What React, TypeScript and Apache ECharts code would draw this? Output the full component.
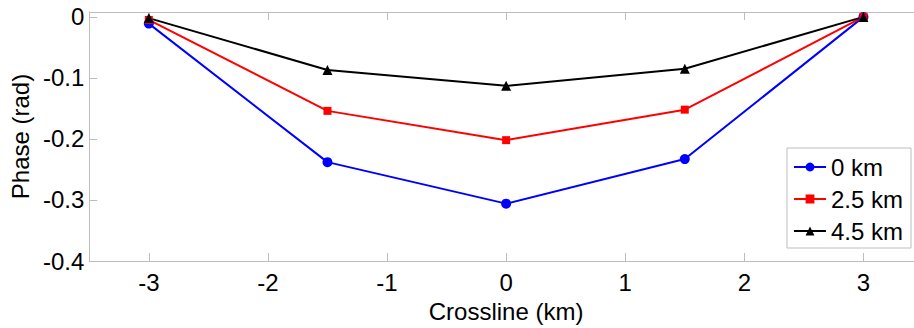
import React, { useEffect, useRef } from "react";
import * as echarts from "echarts";

const crossline = [-3, -1.5, 0, 1.5, 3];
const phase0km = [-0.011, -0.238, -0.306, -0.233, 0];
const phase25km = [-0.005, -0.154, -0.202, -0.152, 0];
const phase45km = [-0.002, -0.087, -0.113, -0.085, 0];
const xTicks = [-3, -2, -1, 0, 1, 2, 3];
const yTicks = [-0.4, -0.3, -0.2, -0.1, 0];

const FONT = "'Liberation Sans', Arial, Helvetica, sans-serif";
const GRAY = "#bdbdbd";

export default function App() {
  const ref = useRef<HTMLDivElement>(null);
  useEffect(() => {
    if (!ref.current) return;
    const chart = echarts.init(ref.current, undefined, { renderer: "svg" });
    const pair = (ys: number[]) => crossline.map((x, i) => [x, ys[i]]);
    chart.setOption({
      animation: false,
      backgroundColor: "#ffffff",
      textStyle: { fontFamily: FONT },
      grid: { left: 88, top: 12, bottom: 66, right: 0 },
      xAxis: [
        {
          type: "value",
          min: -3.5,
          max: 3.5,
          position: "bottom",
          name: "Crossline (km)",
          nameLocation: "middle",
          nameGap: 38,
          nameTextStyle: { fontSize: 24, color: "#000", fontFamily: FONT },
          axisLine: { show: true, onZero: false, lineStyle: { color: GRAY, width: 1 } },
          axisTick: { show: true, inside: true, length: 8, lineStyle: { color: GRAY }, customValues: xTicks },
          axisLabel: { fontSize: 24, color: "#000", margin: 9, fontFamily: FONT, customValues: xTicks, formatter: (v: number) => String(v) },
          splitLine: { show: false },
        },
        {
          type: "value",
          min: -3.5,
          max: 3.5,
          position: "top",
          axisLine: { show: true, onZero: false, lineStyle: { color: GRAY, width: 1 } },
          axisTick: { show: true, inside: true, length: 8, lineStyle: { color: GRAY }, customValues: xTicks },
          axisLabel: { show: false },
          splitLine: { show: false },
        },
      ],
      yAxis: {
        type: "value",
        min: -0.4,
        max: 0.008,
        name: "Phase (rad)",
        nameLocation: "middle",
        nameGap: 54,
        nameTextStyle: { fontSize: 24, color: "#000", fontFamily: FONT },
        axisLine: { show: true, onZero: false, lineStyle: { color: GRAY, width: 1 } },
        axisTick: { show: true, inside: true, length: 8, lineStyle: { color: GRAY }, customValues: yTicks },
        axisLabel: {
          fontSize: 24,
          color: "#000",
          margin: 5,
          fontFamily: FONT,
          customValues: yTicks,
          formatter: (v: number) => (Math.abs(v) < 1e-9 ? "0" : String(Math.round(v * 10) / 10)),
        },
        splitLine: { show: false },
      },
      legend: {
        orient: "vertical",
        left: 787,
        top: 148,
        padding: [7, 8, 5, 6],
        itemWidth: 32,
        itemHeight: 11,
        itemGap: 8,
        borderColor: GRAY,
        borderWidth: 1,
        backgroundColor: "#fff",
        textStyle: { fontSize: 24, color: "#000", fontFamily: FONT, lineHeight: 24 },
        data: ["0 km", "2.5 km", "4.5 km"],
      },
      series: [
        {
          name: "0 km",
          type: "line",
          data: pair(phase0km),
          color: "#0000ff",
          lineStyle: { width: 2, color: "#0000ff" },
          symbol: "circle",
          symbolSize: 10,
          itemStyle: { color: "#0000ff" },
        },
        {
          name: "2.5 km",
          type: "line",
          data: pair(phase25km),
          color: "#ff0000",
          lineStyle: { width: 2, color: "#ff0000" },
          symbol: "rect",
          symbolSize: 8,
          itemStyle: { color: "#ff0000" },
        },
        {
          name: "4.5 km",
          type: "line",
          data: pair(phase45km),
          color: "#000000",
          lineStyle: { width: 2, color: "#000000" },
          symbol: "triangle",
          symbolSize: 10,
          itemStyle: { color: "#000000" },
        },
      ],
    });
    return () => chart.dispose();
  }, []);
  return (
    <div style={{ position: "absolute", left: 0, top: 0, width: 914, height: 328, overflow: "hidden", background: "#fff" }}>
      <div ref={ref} style={{ width: 923, height: 328 }} />
    </div>
  );
}
